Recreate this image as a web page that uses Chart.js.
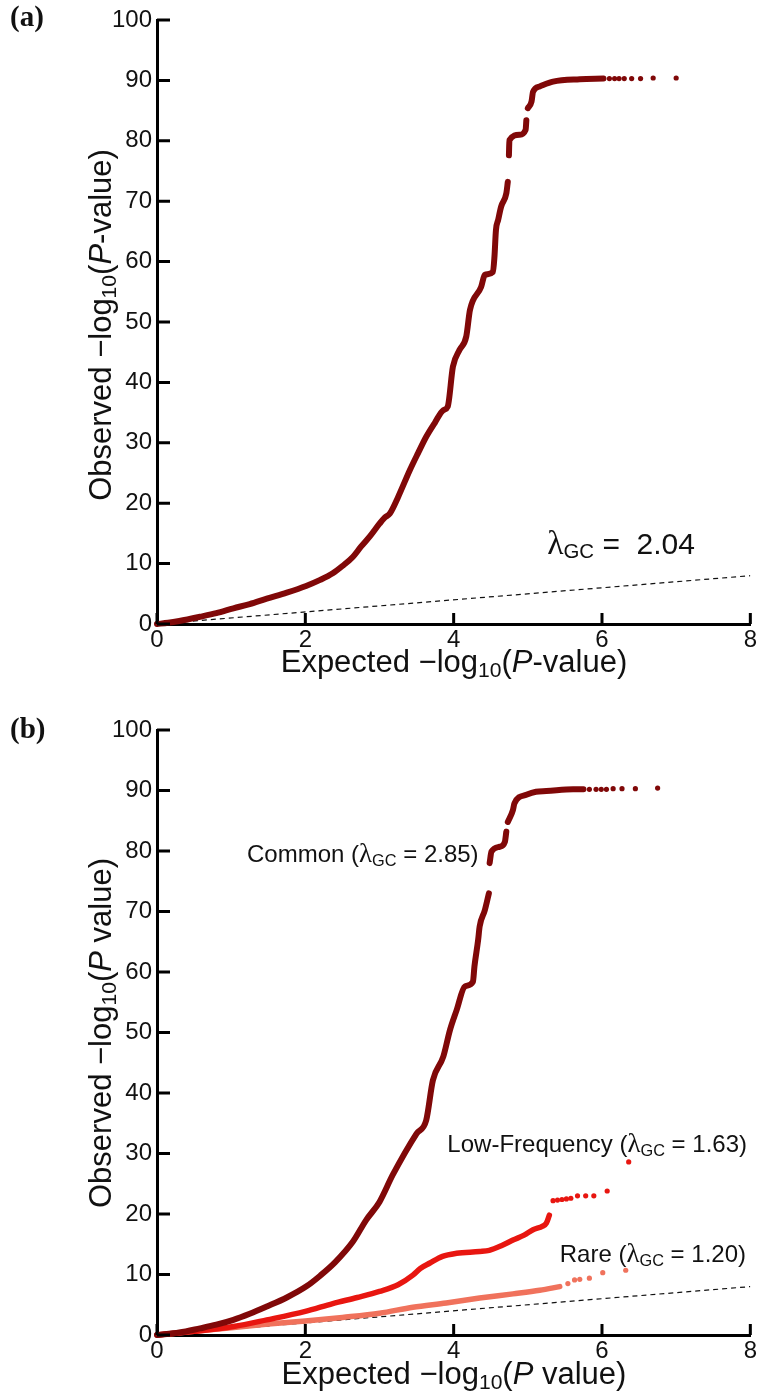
<!DOCTYPE html>
<html>
<head>
<meta charset="utf-8">
<script src="https://cdn.jsdelivr.net/npm/chart.js@4.4.1/dist/chart.umd.min.js"></script>
<style>
    body { margin: 0; background: #fff; }
    #page { position: relative; width: 759px; height: 1397px; font-family: 'Liberation Sans', Arial, sans-serif; color: #111; }
    .panel { position: absolute; left: 0; }
    .txt { position: absolute; white-space: nowrap; line-height: 1; }
    .letter { font-family: 'Liberation Serif', 'Times New Roman', serif; font-weight: bold; font-size: 29px; left: 10px; }
    .ytitle { font-size: 31px; width: 540px; height: 30px; line-height: 30px; text-align: center; transform: rotate(-90deg); }
    .xtitle { font-size: 31px; left: 157px; width: 594px; text-align: center; }
    .lam { font-family: 'Liberation Serif', 'Times New Roman', serif; font-size: 1.12em; line-height: 0; }
    sub { font-size: 0.68em; vertical-align: -0.22em; line-height: 0; }
    .note { font-size: 24px; }
</style>
</head>
<body>
<div id="page">
    <div class="panel" style="top:0"><canvas id="chartAll" width="759" height="700"></canvas></div>
    <div class="panel" style="top:700px"><canvas id="chartFreq" width="759" height="697"></canvas></div>

    <div class="txt letter" style="top:2px">(a)</div>
    <div class="txt letter" style="top:714px">(b)</div>

    <div class="txt ytitle" style="left:-169px; top:310px">Observed −log<sub>10</sub>(<i>P</i>-value)</div>
    <div class="txt xtitle" style="top:646px">Expected −log<sub>10</sub>(<i>P</i>-value)</div>
    <div class="txt" style="right:64px; top:529px; font-size:30px"><span class="lam">λ</span><sub>GC</sub> =&nbsp; 2.04</div>

    <div class="txt ytitle" style="left:-169px; top:1018px">Observed −log<sub>10</sub>(<i>P</i> value)</div>
    <div class="txt xtitle" style="top:1358px">Expected −log<sub>10</sub>(<i>P</i> value)</div>
    <div class="txt note" style="left:247px; top:842px">Common (<span class="lam">λ</span><sub>GC</sub> = 2.85)</div>
    <div class="txt note" style="right:12px; top:1132px">Low-Frequency (<span class="lam">λ</span><sub>GC</sub> = 1.63)</div>
    <div class="txt note" style="right:13px; top:1242px">Rare (<span class="lam">λ</span><sub>GC</sub> = 1.20)</div>
</div>

<script>
// axis ticks
const xTicks = [0, 2, 4, 6, 8];
const yTicks = [0, 10, 20, 30, 40, 50, 60, 70, 80, 90, 100];
const nullLineX = [0, 8];
const nullLineY = [0, 8];

// (a) all variants, null = gap in the dotted curve
const expectedAll = [0, 0.15, 0.3, 0.58, 0.8, 1.03, 1.25, 1.48, 1.75, 2.01, 2.2, 2.37, 2.5, 2.64, 2.75, 2.87, 3.0, 3.07, 3.14, 3.25, 3.41, 3.52, 3.63, 3.75, 3.86, 3.92, 3.99, 4.08, 4.17, 4.22, 4.37, 4.42, 4.53, 4.55, 4.57, 4.6, 4.64, 4.71, 4.73, 4.74, 4.745, 4.752, 4.89, 4.97, 4.98, 4.99, 5.0, 5.05, 5.07, 5.16, 5.34, 5.7, 6.02];
const observedAll = [0, 0.2, 0.5, 1.2, 1.8, 2.6, 3.3, 4.2, 5.2, 6.3, 7.3, 8.4, 9.6, 11.1, 12.8, 14.5, 16.6, 17.6, 18.3, 21.0, 25.5, 28.3, 31.0, 33.4, 35.4, 36.0, 42.6, 45.4, 47.6, 52.0, 55.8, 57.8, 58.3, 60.8, 65.2, 66.9, 69.1, 71.3, 73.2, null, 77.6, 80.1, 81.0, 81.8, 83.4, null, 85.4, 86.5, 88.1, 89.0, 89.8, 90.2, 90.3];
const tailExpectedAll = [6.1, 6.17, 6.23, 6.3, 6.4, 6.52, 6.69, 7.0];
const tailObservedAll = [90.3, 90.3, 90.3, 90.3, 90.3, 90.3, 90.4, 90.4];

// (b) common variants
const expectedCommon = [0, 0.3, 0.58, 0.8, 1.03, 1.25, 1.48, 1.75, 2.01, 2.2, 2.4, 2.64, 2.82, 3.0, 3.18, 3.5, 3.63, 3.72, 3.86, 3.95, 4.04, 4.15, 4.26, 4.28, 4.33, 4.35, 4.42, 4.475, 4.48, 4.485, 4.51, 4.62, 4.69, 4.71, 4.72, 4.73, 4.8, 4.82, 4.98, 5.11, 5.25, 5.61, 5.75];
const observedCommon = [0, 0.4, 1.1, 1.7, 2.5, 3.5, 4.7, 6.2, 8.0, 9.8, 12.0, 15.4, 19.0, 22.0, 26.5, 33.3, 35.5, 42.1, 46.0, 50.4, 53.7, 57.6, 58.4, 60.9, 65.3, 67.5, 70.2, 73.0, null, 78.0, 79.9, 80.7, 81.5, 83.2, null, 84.8, 86.8, 87.9, 89.3, 89.8, 89.9, 90.2, 90.2];
const tailExpectedCommon = [5.83, 5.92, 5.99, 6.06, 6.15, 6.27, 6.45, 6.75];
const tailObservedCommon = [90.2, 90.2, 90.2, 90.2, 90.3, 90.3, 90.3, 90.4];

// (b) low-frequency variants
const expectedLow = [0, 0.5, 1.03, 1.48, 2.0, 2.37, 2.7, 3.0, 3.25, 3.45, 3.55, 3.68, 3.85, 4.04, 4.35, 4.48, 4.65, 4.8, 4.95, 5.07, 5.2, 5.25, 5.29];
const observedLow = [0, 0.6, 1.4, 2.5, 3.9, 5.2, 6.2, 7.2, 8.3, 9.9, 11.0, 11.9, 13.0, 13.5, 13.8, 14.0, 14.8, 15.7, 16.5, 17.4, 18.0, 18.5, 19.8];
const tailExpectedLow = [5.34, 5.4, 5.46, 5.52, 5.58, 5.67, 5.78, 5.89, 6.07, 6.36];
const tailObservedLow = [22.2, 22.3, 22.4, 22.5, 22.6, 23.0, 23.0, 23.0, 23.8, 28.6];

// (b) rare variants
const expectedRare = [0, 0.5, 1.0, 1.5, 2.0, 2.5, 3.0, 3.45, 3.9, 4.35, 4.8, 5.16, 5.43];
const observedRare = [0, 0.6, 1.2, 1.8, 2.3, 2.9, 3.6, 4.6, 5.3, 6.1, 6.8, 7.4, 8.0];
const tailExpectedRare = [5.54, 5.63, 5.7, 5.83, 6.01, 6.32];
const tailObservedRare = [8.5, 9.1, 9.2, 9.4, 10.3, 10.7];

const darkRed = 'rgb(128, 8, 8)';
const brightRed = 'rgb(232, 22, 16)';
const salmon = 'rgb(240, 114, 92)';

function toPoints(xs, ys) {
    return xs.map(function(x, i) { return { x: x, y: ys[i] }; });
}

function curve(xs, ys, color, width) {
    return {
        data: toPoints(xs, ys),
        showLine: true,
        borderColor: color,
        borderWidth: width,
        borderCapStyle: 'round',
        borderJoinStyle: 'round',
        cubicInterpolationMode: 'monotone',
        pointRadius: 0,
        spanGaps: false,
        clip: false
    };
}

function dots(xs, ys, color) {
    return {
        data: toPoints(xs, ys),
        showLine: false,
        backgroundColor: color,
        borderWidth: 0,
        pointRadius: 2.6,
        clip: false
    };
}

function nullLine() {
    return {
        data: toPoints(nullLineX, nullLineY),
        showLine: true,
        borderColor: '#111',
        borderWidth: 1.2,
        borderDash: [5, 4],
        pointRadius: 0
    };
}

// tick marks point into the plot area
const innerTicks = {
    id: 'innerTicks',
    afterDraw: function(chart) {
        const ctx = chart.ctx;
        const area = chart.chartArea;
        const sx = chart.scales.x;
        const sy = chart.scales.y;
        ctx.save();
        ctx.strokeStyle = '#000';
        ctx.lineWidth = 3;
        ctx.beginPath();
        xTicks.forEach(function(v) {
            const px = sx.getPixelForValue(v);
            ctx.moveTo(px, area.bottom);
            ctx.lineTo(px, area.bottom - 11);
        });
        yTicks.forEach(function(v) {
            const py = sy.getPixelForValue(v);
            ctx.moveTo(area.left, py);
            ctx.lineTo(area.left + 13, py);
        });
        ctx.stroke();
        ctx.restore();
    }
};

function makePanel(id, padTop, xAxisHeight, datasets) {
    const tickFont = { family: "'Liberation Sans', Arial, sans-serif", size: 24 };
    return new Chart(document.getElementById(id), {
        type: 'scatter',
        data: { datasets: datasets },
        plugins: [innerTicks],
        options: {
            responsive: false,
            animation: false,
            devicePixelRatio: 1,
            layout: { padding: { top: padTop, right: 8, left: 0, bottom: 0 } },
            plugins: { legend: { display: false }, tooltip: { enabled: false } },
            scales: {
                x: {
                    type: 'linear',
                    min: 0,
                    max: 8,
                    grid: { display: false, drawTicks: false },
                    border: { display: true, color: '#000', width: 3 },
                    ticks: { color: '#111', font: tickFont, padding: 2, maxRotation: 0 },
                    afterBuildTicks: function(s) { s.ticks = xTicks.map(function(v) { return { value: v }; }); },
                    afterFit: function(s) { s.height = xAxisHeight; }
                },
                y: {
                    type: 'linear',
                    min: 0,
                    max: 100,
                    grid: { display: false, drawTicks: false },
                    border: { display: true, color: '#000', width: 3 },
                    ticks: { color: '#111', font: tickFont, padding: 5 },
                    afterBuildTicks: function(s) { s.ticks = yTicks.map(function(v) { return { value: v }; }); },
                    afterFit: function(s) { s.width = 157; }
                }
            }
        }
    });
}

makePanel('chartAll', 20, 76, [
    curve(expectedAll, observedAll, darkRed, 6),
    dots(tailExpectedAll, tailObservedAll, darkRed),
    nullLine()
]);

makePanel('chartFreq', 30, 62, [
    curve(expectedCommon, observedCommon, darkRed, 6),
    dots(tailExpectedCommon, tailObservedCommon, darkRed),
    curve(expectedLow, observedLow, brightRed, 5.5),
    dots(tailExpectedLow, tailObservedLow, brightRed),
    curve(expectedRare, observedRare, salmon, 5.5),
    dots(tailExpectedRare, tailObservedRare, salmon),
    nullLine()
]);
</script>
</body>
</html>
